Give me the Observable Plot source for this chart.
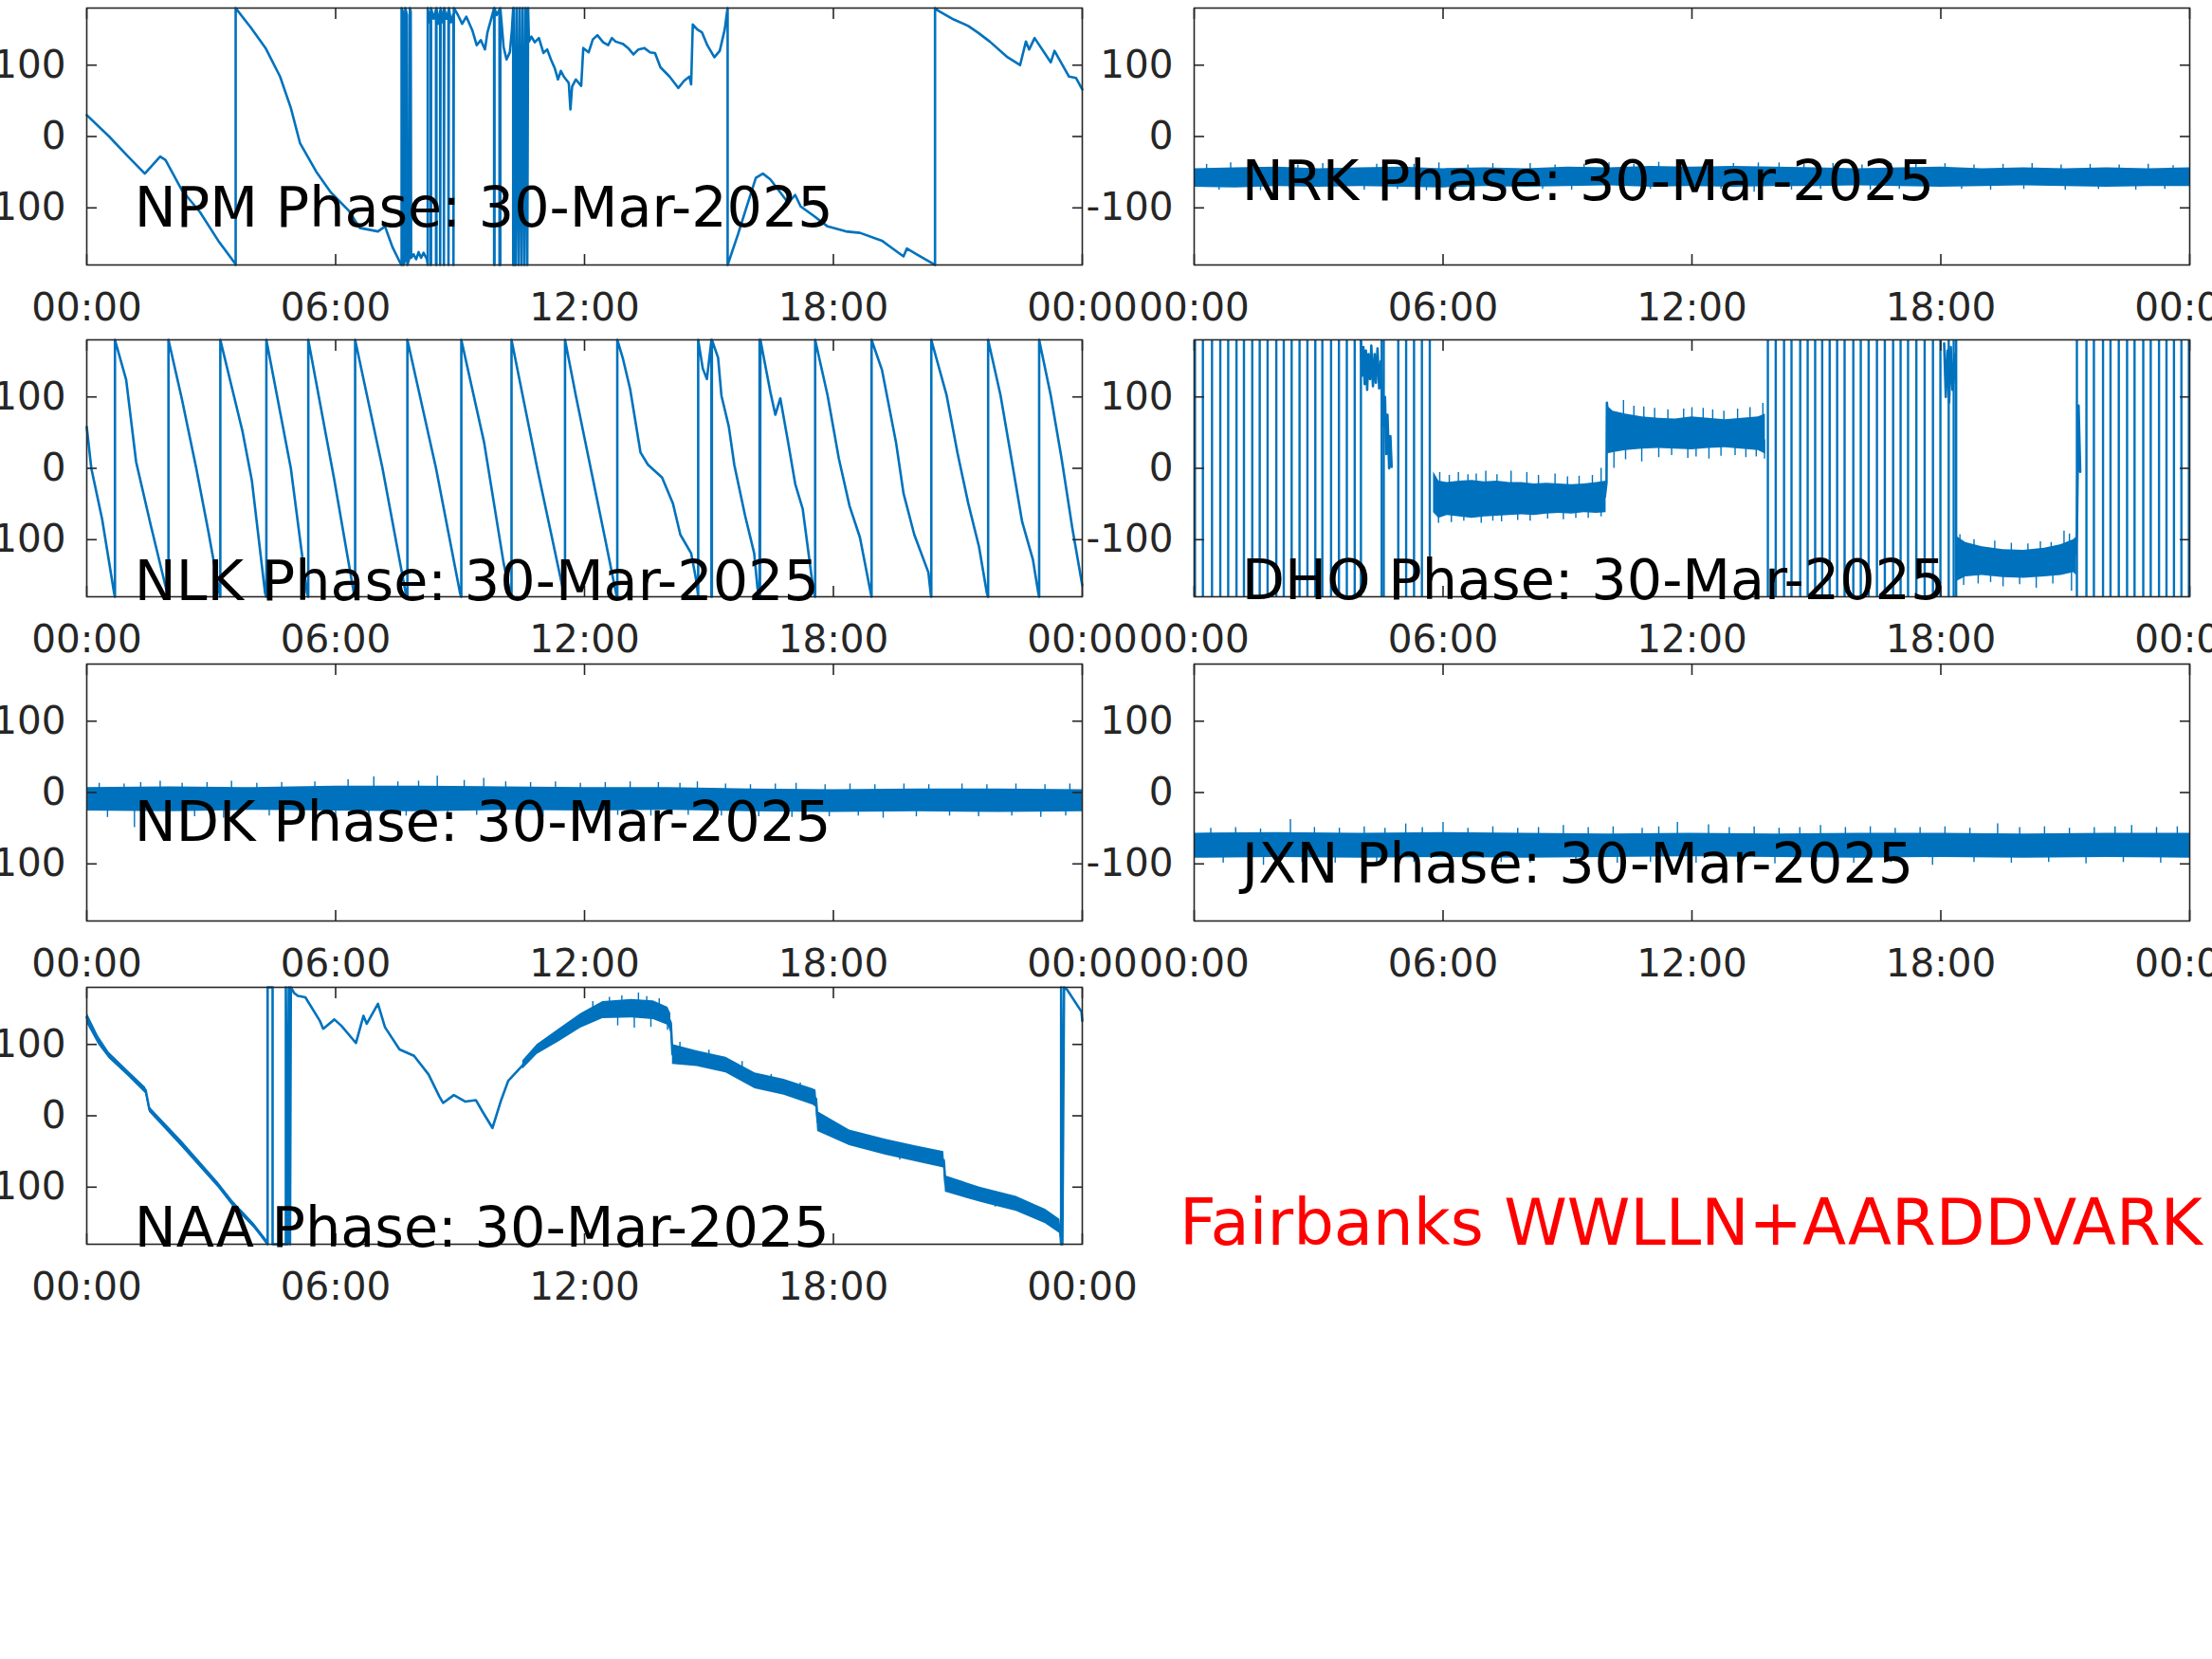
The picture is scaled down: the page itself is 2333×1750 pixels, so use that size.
<!DOCTYPE html>
<html>
<head>
<meta charset="utf-8">
<title>VLF phase, Fairbanks, 30-Mar-2025</title>
<script src="https://cdn.jsdelivr.net/npm/d3@7"></script>
<script src="https://cdn.jsdelivr.net/npm/@observablehq/plot@0.6"></script>
<style>
  html, body { margin: 0; padding: 0; background: #fff; overflow: hidden; width: 2333px; height: 1750px; }
  #page { position: relative; width: 2333px; height: 1750px; overflow: hidden; }
  .panel { position: absolute; }
  .panel svg { overflow: visible; max-width: none; }
  #caption { position: absolute; overflow: visible; }
</style>
</head>
<body>
<div id="page"></div>
<script>
// ---- Phase traces (hour of day, degrees). Wraps appear as consecutive ±180 points. ----
const DATE = "30-Mar-2025";
const hourTicks = [0, 6, 12, 18, 24];
const phaseTicks = [-100, 0, 100];

const npmTrace = [
  [0, 30], [0.54, 0], [0.98, -27], [1.4, -52], [1.77, -28], [1.9, -33], [2.29, -75], [2.73, -106], [3.17, -146], [3.59, -179],
  [3.59, -180], [3.59, 180], [3.95, 153], [4.31, 124], [4.66, 84], [4.92, 40], [5.14, -9], [5.53, -49], [5.88, -78],
  [6.32, -104], [6.58, -128], [7.02, -133], [7.19, -126], [7.37, -155], [7.54, -175],
  [7.59, -180], [7.59, 180], [7.62, 175], [7.63, -180], [7.67, -175], [7.68, 180], [7.72, 170], [7.73, -180],
  [7.78, -170], [7.79, 180], [7.81, 175], [7.82, -170],
  [7.88, -165], [7.94, -172], [8.0, -162], [8.06, -170], [8.12, -163], [8.2, -172],
  [8.22, -180], [8.22, 180], [8.26, 160], [8.29, 175], [8.29, -180], [8.3, -180], [8.3, 180], [8.36, 165],
  [8.42, 178], [8.42, -180], [8.43, -180], [8.43, 180], [8.48, 158], [8.52, 176], [8.52, -180], [8.53, 180],
  [8.57, 160], [8.61, 178], [8.61, -180], [8.62, 180], [8.67, 165], [8.72, 176], [8.72, -180], [8.73, 180],
  [8.78, 160], [8.84, 172], [8.84, -180], [8.85, 180], [8.95, 170], [9.05, 158], [9.15, 168], [9.3, 148],
  [9.4, 128], [9.5, 135], [9.6, 122], [9.66, 146], [9.75, 165], [9.82, 180], [9.82, -180], [9.83, -180], [9.83, 180],
  [9.88, 170], [9.95, 178], [9.95, -180], [9.97, -180], [9.97, 180], [10.05, 125], [10.12, 108], [10.2, 118], [10.25, 150],
  [10.28, 180], [10.28, -180], [10.3, -180], [10.3, 180], [10.34, -180], [10.37, 180], [10.41, -180], [10.44, 180],
  [10.48, -180], [10.51, 180], [10.55, -180], [10.58, 180], [10.62, -180], [10.64, 180],
  [10.66, 133], [10.72, 140], [10.8, 132], [10.9, 138], [11.01, 117], [11.1, 122], [11.19, 108], [11.28, 96], [11.36, 80],
  [11.43, 92], [11.5, 84], [11.62, 75], [11.66, 38], [11.7, 70], [11.79, 80], [11.92, 71], [11.97, 124], [12.1, 118],
  [12.2, 136], [12.31, 142], [12.45, 132], [12.57, 128], [12.66, 138], [12.75, 133], [12.92, 130], [13.05, 124],
  [13.18, 115], [13.3, 122], [13.44, 124], [13.58, 118], [13.7, 117], [13.83, 97], [14.05, 84], [14.26, 68], [14.4, 78],
  [14.53, 84], [14.57, 73], [14.61, 157], [14.72, 150], [14.83, 146], [14.96, 128], [15.13, 111], [15.26, 120],
  [15.38, 150], [15.43, 172],
  [15.45, 180], [15.45, -180], [15.7, -137], [15.91, -98], [16.13, -58], [16.3, -52], [16.48, -60], [16.65, -73],
  [16.91, -93], [17.08, -82], [17.21, -98], [17.52, -111], [17.86, -126], [18.3, -133], [18.64, -135], [19.17, -146],
  [19.43, -157], [19.69, -168], [19.77, -157], [20.03, -166], [20.42, -179],
  [20.45, -180], [20.45, 180], [20.51, 177], [20.9, 164], [21.25, 155], [21.5, 145], [21.77, 133], [22.2, 111],
  [22.5, 100], [22.64, 133], [22.72, 122], [22.85, 138], [23.24, 104], [23.33, 120], [23.68, 84], [23.85, 82], [24, 66]
];

const nrkBand = [
  [0, -71, -45], [1, -72, -44], [2, -70, -43], [3, -71, -45], [4, -70, -44], [5, -71, -43], [6, -72, -45],
  [7, -70, -44], [8, -71, -45], [9, -70, -43], [10, -69, -44], [11, -71, -42], [12, -70, -43], [13, -71, -42],
  [14, -70, -43], [15, -70, -44], [16, -69, -45], [17, -70, -44], [18, -71, -43], [19, -70, -45], [20, -69, -44],
  [21, -70, -45], [22, -71, -44], [23, -70, -45], [24, -70, -44]
];
const nrkSpikes = [
  [0.3, -50, -39], [0.88, -50, -37], [1.4, -50, -40], [2.0, -50, -39], [2.5, -50, -40], [3.1, -50, -38], [3.7, -50, -40],
  [4.4, -50, -39], [5.3, -50, -39], [5.9, -50, -37], [6.6, -50, -40], [7.2, -50, -38], [8.1, -50, -38], [8.7, -50, -40],
  [9.4, -50, -39], [10.0, -50, -37], [10.6, -50, -39], [11.2, -50, -36], [11.8, -50, -38], [12.4, -50, -35], [13.0, -50, -38],
  [13.6, -50, -37], [14.1, -50, -37], [14.7, -50, -39], [15.4, -50, -38], [16.1, -50, -40], [16.8, -50, -38], [17.4, -50, -39],
  [18.1, -50, -38], [18.8, -50, -40], [19.5, -50, -39], [20.2, -50, -38], [20.9, -50, -40], [21.6, -50, -39], [22.3, -50, -40],
  [23.0, -50, -39], [23.6, -50, -41],
  [0.6, -75, -62], [1.6, -76, -62], [2.3, -74, -62], [3.3, -77, -62], [4.1, -75, -62], [4.9, -74, -62], [5.6, -76, -62],
  [6.3, -75, -62], [7.5, -77, -62], [8.4, -74, -62], [9.1, -75, -62], [10.3, -76, -62], [11.0, -74, -62], [11.7, -75, -62],
  [12.7, -74, -62], [13.5, -78, -62], [14.4, -75, -62], [15.1, -74, -62], [16.3, -75, -62], [17.0, -74, -62], [17.7, -76, -62],
  [18.5, -74, -62], [19.2, -75, -62], [20.0, -74, -62], [21.0, -75, -62], [21.8, -74, -62], [22.7, -75, -62], [23.4, -74, -62]
];

const nlkTrace = [
  [0, 58], [0.11, 0], [0.37, -71], [0.66, -175], [0.68, -180], [0.68, 180],
  [0.95, 124], [1.19, 9], [1.54, -79], [1.94, -175], [1.97, -180], [1.97, 180],
  [2.29, 98], [2.64, 0], [2.93, -88], [3.2, -175], [3.22, -180], [3.22, 180],
  [3.75, 53], [3.98, -17], [4.3, -175], [4.33, -180], [4.33, 180],
  [4.92, 0], [5.31, -175], [5.34, -180], [5.34, 180],
  [5.97, -17], [6.44, -175], [6.47, -180], [6.47, 180],
  [7.13, 0], [7.69, -175], [7.73, -180], [7.73, 180],
  [8.42, 0], [9.0, -175], [9.03, -180], [9.03, 180],
  [9.58, 36], [10.05, -133], [10.21, -175], [10.24, -180], [10.24, 180],
  [10.86, 0], [11.5, -175], [11.53, -180], [11.53, 180],
  [11.79, 102], [12.1, 14], [12.49, -97], [12.77, -178], [12.79, -180], [12.79, 180],
  [12.92, 155], [13.1, 111], [13.35, 22], [13.53, 5], [13.87, -13], [14.13, -49], [14.31, -93], [14.57, -119],
  [14.7, -159], [14.74, -180], [14.74, 180],
  [14.85, 140], [14.95, 125], [15.02, 160], [15.06, 180], [15.06, -180], [15.07, -180], [15.07, 180],
  [15.22, 155], [15.3, 102], [15.48, 58], [15.61, 5], [15.87, -66], [16.09, -119], [16.17, -168],
  [16.22, -180], [16.22, 180], [16.23, -180], [16.24, 180],
  [16.48, 107], [16.6, 75], [16.72, 98], [16.91, 36], [17.08, -22], [17.26, -57], [17.52, -172], [17.56, -180], [17.56, 180],
  [17.86, 102], [18.13, 14], [18.39, -53], [18.64, -97], [18.9, -175], [18.92, -180], [18.92, 180],
  [19.17, 138], [19.51, 36], [19.69, -35], [19.95, -93], [20.29, -146], [20.35, -178], [20.36, -180], [20.36, 180],
  [20.73, 102], [20.99, 22], [21.25, -49], [21.51, -110], [21.7, -175], [21.73, -180], [21.73, 180],
  [22.03, 102], [22.29, 14], [22.55, -75], [22.81, -128], [22.94, -175], [22.96, -180], [22.96, 180],
  [23.24, 102], [23.5, 14], [23.76, -84], [24, -164]
];

// DHO: hours at which the fast-rotating phase sweeps the full ±180 range
const dhoWraps = [
  0.02, 0.21, 0.43, 0.63, 0.82, 1.02, 1.2, 1.4, 1.58, 1.77, 1.98, 2.16, 2.35, 2.54, 2.73, 2.92, 3.09, 3.3, 3.49,
  3.68, 3.87, 4.02, 4.52, 4.57, 4.92, 5.11, 5.3, 5.49, 5.68,
  13.83, 14.02, 14.22, 14.4, 14.61, 14.79, 14.97, 15.14, 15.32, 15.5, 15.68, 15.89, 16.07, 16.26, 16.46, 16.65,
  16.85, 17.03, 17.21, 17.41, 17.61, 17.81, 17.99, 18.19, 18.31, 18.37,
  21.28, 21.51, 21.69, 21.91, 22.09, 22.29, 22.49, 22.67, 22.88, 23.06, 23.26, 23.44, 23.62, 23.8, 23.98
];
const dhoNoiseEarly = [
  [4.02, 178], [4.05, 130], [4.08, 170], [4.11, 118], [4.14, 165], [4.17, 110], [4.2, 160], [4.24, 125], [4.27, 172],
  [4.31, 115], [4.35, 160], [4.38, 120], [4.42, 168], [4.46, 112], [4.5, 150], [4.53, 100], [4.56, 60], [4.6, 100],
  [4.63, 20], [4.66, 75], [4.7, 0], [4.73, 45], [4.76, 2]
];
const dhoNoiseLate = [[18.08, 175], [18.12, 100], [18.16, 165], [18.2, 92], [18.24, 170], [18.28, 110], [18.33, 160], [18.36, 120]];
const dhoStepUp = [[9.9, -40], [9.94, -20], [9.95, 92], [10.0, 55]];
const dhoStepLate = [[21.25, -120], [21.28, -90], [21.32, 88], [21.36, -5]];
const dhoBandA = [
  [5.77, -62, -5], [5.9, -70, -18], [6.1, -66, -20], [6.4, -68, -18], [6.7, -70, -17], [7.0, -68, -19], [7.3, -67, -18],
  [7.6, -66, -20], [7.9, -65, -20], [8.2, -66, -22], [8.5, -64, -21], [8.8, -63, -22], [9.1, -64, -23], [9.4, -62, -22],
  [9.7, -63, -20], [9.93, -62, -18]
];
const dhoBandB = [
  [9.95, 20, 88], [10.1, 22, 80], [10.4, 25, 76], [10.8, 27, 72], [11.2, 28, 70], [11.6, 27, 69], [12.0, 26, 72],
  [12.4, 28, 70], [12.8, 29, 68], [13.2, 27, 70], [13.6, 25, 72], [13.77, 20, 76]
];
const dhoBandC = [
  [18.4, -158, -96], [18.6, -152, -104], [19.0, -150, -110], [19.5, -153, -114], [20.0, -154, -115], [20.5, -152, -112],
  [20.9, -150, -107], [21.2, -146, -100], [21.27, -150, -96]
];
const dhoSpikes = [
  [5.92, -30, -6], [6.15, -30, -10], [6.37, -30, -6], [6.6, -30, -9], [6.8, -30, -8], [7.03, -30, -4], [7.3, -30, -9],
  [7.64, -30, -4], [8.02, -30, -6], [8.3, -30, -10], [8.7, -30, -8], [9.0, -30, -12], [9.28, -30, -11], [9.6, -30, -10], [9.81, -30, 0],
  [5.89, -77, -50], [6.2, -76, -50], [6.5, -74, -50], [6.92, -77, -50], [7.2, -74, -50], [7.41, -75, -50], [7.8, -73, -50],
  [8.1, -74, -50], [8.52, -71, -50], [8.9, -72, -50], [9.2, -70, -50], [9.5, -70, -50], [9.81, -68, -50],
  [10.35, 50, 95], [10.6, 50, 87], [10.84, 50, 86], [11.1, 50, 84], [11.42, 50, 82], [11.8, 50, 83], [12.0, 50, 85],
  [12.27, 50, 84], [12.5, 50, 82], [12.77, 50, 80], [13.1, 50, 83], [13.4, 50, 85], [13.71, 50, 91],
  [10.12, 0, 40], [10.4, 12, 40], [10.79, 9, 40], [11.2, 15, 40], [11.51, 18, 40], [11.9, 14, 40], [12.1, 16, 40],
  [12.41, 13, 40], [12.7, 17, 40], [13.04, 18, 40], [13.3, 15, 40], [13.55, 16, 40], [13.75, 13, 40],
  [18.46, -130, -93], [18.8, -130, -100], [19.3, -130, -102], [19.7, -130, -105], [20.1, -130, -106], [20.4, -130, -103],
  [20.66, -130, -104], [20.97, -130, -88], [21.1, -130, -92],
  [18.55, -164, -130], [18.9, -162, -130], [19.2, -160, -130], [19.5, -166, -130], [19.9, -163, -130], [20.3, -168, -130],
  [20.7, -162, -130], [21.15, -172, -130]
];

const ndkBand = [
  [0, -26, 7], [2, -27, 8], [4, -25, 7], [6, -26, 9], [8, -27, 9], [10, -25, 8], [12, -26, 7], [14, -25, 7],
  [16, -27, 5], [18, -28, 4], [20, -27, 5], [22, -28, 5], [24, -27, 4]
];
const ndkSpikes = [
  [0.3, 0, 13], [0.9, 0, 12], [1.3, 0, 14], [1.77, 0, 16], [2.3, 0, 13], [2.9, 0, 14], [3.49, 0, 16], [4.1, 0, 13],
  [4.7, 0, 14], [5.5, 0, 15], [6.3, 0, 18], [6.92, 0, 22], [7.5, 0, 15], [8.0, 0, 16], [8.45, 0, 23], [9.1, 0, 17],
  [9.57, 0, 20], [10.1, 0, 15], [10.7, 0, 14], [11.3, 0, 15], [11.9, 0, 13], [12.5, 0, 14], [13.1, 0, 15], [13.78, 0, 14],
  [14.3, 0, 13], [14.72, 0, 15], [15.4, 0, 12], [16.0, 0, 11], [16.6, 0, 12], [17.1, 0, 13], [17.8, 0, 11], [18.4, 0, 12],
  [19.0, 0, 11], [19.7, 0, 12], [20.3, 0, 11], [21.1, 0, 12], [21.7, 0, 11], [22.4, 0, 12], [23.1, 0, 11], [23.7, 0, 12],
  [0.5, -35, -15], [1.15, -49, -15], [2.0, -33, -15], [2.6, -34, -15], [3.3, -36, -15], [4.4, -33, -15], [5.2, -34, -15],
  [6.0, -33, -15], [6.8, -34, -15], [7.7, -33, -15], [8.7, -34, -15], [9.4, -32, -15], [10.4, -33, -15], [11.0, -35, -15],
  [11.8, -33, -15], [12.8, -32, -15], [13.6, -33, -15], [14.5, -32, -15], [15.3, -33, -15], [16.2, -34, -15], [17.0, -35, -15],
  [17.9, -34, -15], [18.6, -33, -15], [19.2, -36, -15], [20.0, -34, -15], [20.8, -33, -15], [21.5, -34, -15], [22.3, -33, -15],
  [23.0, -35, -15], [23.6, -33, -15]
];

const jxnBand = [
  [0, -92, -57], [2, -91, -56], [4, -92, -57], [6, -91, -56], [8, -92, -57], [10, -91, -58], [12, -90, -57],
  [14, -91, -58], [16, -92, -57], [18, -91, -57], [20, -92, -58], [22, -91, -57], [24, -92, -57]
];
const jxnSpikes = [
  [0.4, -70, -50], [1.0, -70, -49], [1.6, -70, -51], [2.32, -70, -38], [2.9, -70, -49], [3.5, -70, -50], [4.1, -70, -48],
  [4.6, -70, -50], [5.1, -70, -44], [5.5, -70, -49], [6.0, -70, -42], [6.6, -70, -50], [7.2, -70, -48], [7.8, -70, -50],
  [8.3, -70, -49], [8.9, -70, -46], [9.5, -70, -49], [10.1, -70, -48], [10.8, -70, -50], [11.2, -70, -48], [11.65, -70, -42],
  [12.4, -70, -45], [12.9, -70, -49], [13.5, -70, -48], [14.1, -70, -50], [14.6, -70, -49], [15.1, -70, -46], [15.7, -70, -49],
  [16.3, -70, -48], [16.9, -70, -50], [17.5, -70, -49], [18.1, -70, -48], [18.7, -70, -50], [19.37, -70, -44], [19.9, -70, -49],
  [20.5, -70, -48], [21.1, -70, -50], [21.7, -70, -49], [22.2, -70, -48], [22.6, -70, -46], [23.2, -70, -49], [23.7, -70, -48],
  [0.7, -99, -80], [1.67, -102, -80], [2.6, -98, -80], [3.4, -99, -80], [4.4, -100, -80], [5.3, -98, -80], [6.5, -101, -80],
  [7.4, -98, -80], [8.1, -99, -80], [9.2, -98, -80], [10.2, -99, -80], [11.0, -98, -80], [12.1, -99, -80], [13.1, -98, -80],
  [14.0, -100, -80], [15.0, -98, -80], [15.9, -99, -80], [16.8, -98, -80], [17.8, -102, -80], [18.8, -98, -80],
  [19.7, -99, -80], [20.6, -98, -80], [21.5, -100, -80], [22.4, -98, -80], [23.3, -99, -80]
];

const naaTrace = [
  [0, 138], [0.28, 106], [0.54, 84], [1.42, 36], [1.51, 9], [2.29, -40], [3.17, -97], [3.52, -124], [4.04, -155],
  [4.36, -180], [4.36, 180], [4.48, 180], [4.48, -180], [4.8, -180], [4.8, 180], [4.84, -180], [4.87, 180],
  [4.9, -180], [4.92, 180], [5.0, 172], [5.09, 168], [5.27, 166], [5.62, 133], [5.7, 122], [5.97, 135], [6.14, 126],
  [6.49, 102], [6.67, 140], [6.75, 129], [7.02, 157], [7.19, 124], [7.54, 93], [7.89, 84], [8.24, 58], [8.5, 27],
  [8.59, 18], [8.85, 29], [9.12, 20], [9.38, 22], [9.55, 5], [9.78, -17], [9.99, 22], [10.16, 49], [10.51, 71],
  [10.86, 93], [11.39, 113], [11.91, 133], [12.44, 148], [13.14, 150], [13.66, 148], [14.01, 140], [14.08, 130],
  [14.12, 86], [14.71, 80], [15.41, 71], [16.11, 49], [16.81, 40], [17.51, 27], [17.58, 24], [17.62, -8],
  [18.39, -31], [19.26, -44], [19.96, -53], [20.66, -62], [20.7, -95], [21.53, -110], [22.41, -124], [23.11, -141],
  [23.46, -155], [23.49, -180], [23.49, 180], [23.52, -180], [23.56, 180], [23.63, 177], [23.98, 146], [24, 133]
];
const naaBandDawn = [
  [0, 130, 145], [0.28, 100, 112], [0.54, 80, 89], [1.0, 55, 63], [1.42, 31, 40], [1.51, 5, 13], [2.29, -44, -35],
  [3.17, -101, -93], [3.52, -127, -119], [4.04, -158, -151], [4.36, -180, -175]
];
const naaBandNoon = [
  [10.51, 65, 77], [10.86, 86, 100], [11.39, 104, 122], [11.91, 123, 143], [12.44, 136, 160], [13.14, 137, 163],
  [13.66, 135, 161], [14.01, 127, 152], [14.08, 117, 143]
];
const naaBandDusk = [
  [14.12, 72, 100], [14.71, 69, 91], [15.41, 60, 82], [16.11, 38, 60], [16.81, 29, 51], [17.51, 15, 38], [17.58, 12, 36],
  [17.62, -22, 6], [18.39, -42, -20], [19.26, -55, -33], [19.96, -64, -42], [20.66, -73, -50], [20.7, -107, -84],
  [21.53, -121, -100], [22.41, -134, -113], [23.11, -151, -131], [23.46, -165, -145], [23.49, -180, -163]
];
const naaSpikes = [
  [12.2, 140, 160], [12.6, 150, 166], [12.9, 150, 168], [13.3, 150, 172], [13.5, 150, 167], [13.8, 145, 164],
  [12.8, 126, 145], [13.2, 123, 145], [13.6, 124, 145], [14.0, 120, 140],
  [14.3, 85, 103], [15.0, 70, 92], [15.8, 55, 76], [16.5, 36, 58], [17.2, 24, 46], [19.6, -62, -38], [21.9, -128, -106]
];

// ---- Layout and styling ----
const BLUE = "#0072BD";
const AXIS = "#262626";
const FONT = "'DejaVu Sans', 'Liberation Sans', sans-serif";
const PW = 1050, PH = 271;                  // plot area of each panel
const ML = 130, MR = 70, MT = 20, MB = 80;  // room for tick labels
const colLeft = [91, 1259];
const rowTop = [8, 358, 700, 1041];

const panels = [
  {station: "NPM", col: 0, row: 0, traces: [npmTrace], labelY: -126},
  {station: "NRK", col: 1, row: 0, bands: [nrkBand], spikes: nrkSpikes, labelY: -88.6},
  {station: "NLK", col: 0, row: 1, traces: [nlkTrace], labelY: -184.5},
  {station: "DHO", col: 1, row: 1, wraps: dhoWraps, bands: [dhoBandA, dhoBandB, dhoBandC], spikes: dhoSpikes,
   traces: [dhoNoiseEarly, dhoNoiseLate, dhoStepUp, dhoStepLate], labelY: -183.5},
  {station: "NDK", col: 0, row: 2, bands: [ndkBand], spikes: ndkSpikes, labelY: -67.6},
  {station: "JXN", col: 1, row: 2, bands: [jxnBand], spikes: jxnSpikes, labelY: -126.5},
  {station: "NAA", col: 0, row: 3, traces: [naaTrace], bands: [naaBandDawn, naaBandNoon, naaBandDusk], spikes: naaSpikes, labelY: -183.4}
];

const hhmm = (h) => `${String(h % 24).padStart(2, "0")}:00`;
const page = document.getElementById("page");

for (const p of panels) {
  const marks = [];
  for (const b of p.bands ?? []) {
    marks.push(Plot.areaY(b, {x: (d) => d[0], y1: (d) => d[1], y2: (d) => d[2], fill: BLUE}));
  }
  if (p.spikes) {
    marks.push(Plot.ruleX(p.spikes, {x: (d) => d[0], y1: (d) => d[1], y2: (d) => d[2], stroke: BLUE, strokeWidth: 1.4}));
  }
  if (p.wraps) {
    marks.push(Plot.ruleX(p.wraps, {x: (d) => d, y1: -180, y2: 180, stroke: BLUE, strokeWidth: 2.4}));
  }
  for (const t of p.traces ?? []) {
    marks.push(Plot.line(t, {x: (d) => d[0], y: (d) => d[1], stroke: BLUE, strokeWidth: 2.6, strokeLinejoin: "round"}));
  }
  marks.push(
    Plot.frame({stroke: AXIS, strokeWidth: 1.6}),
    Plot.axisY({anchor: "left", ticks: phaseTicks, tickFormat: (d) => String(d), tickSize: -11, tickPadding: 33,
                fontSize: 40.5, stroke: AXIS, fill: AXIS, strokeWidth: 1.6, label: null}),
    Plot.axisY({anchor: "right", ticks: phaseTicks, tickSize: -11, stroke: AXIS, fill: "none", strokeWidth: 1.6, label: null}),
    Plot.axisX({anchor: "bottom", ticks: hourTicks, tickFormat: hhmm, tickSize: -11, tickPadding: 40.5, fontSize: 40.5,
                stroke: AXIS, fill: AXIS, strokeWidth: 1.6, label: null}),
    Plot.axisX({anchor: "top", ticks: hourTicks, tickSize: -11, stroke: AXIS, fill: "none", strokeWidth: 1.6, label: null}),
    Plot.text([`${p.station} Phase: ${DATE}`], {
      x: 1.15, y: p.labelY, text: (d) => d, textAnchor: "start", lineAnchor: "bottom",
      fontSize: 58.8, fill: "#000"
    })
  );

  const chart = Plot.plot({
    width: ML + PW + MR,
    height: MT + PH + MB,
    marginLeft: ML, marginRight: MR, marginTop: MT, marginBottom: MB,
    x: {domain: [0, 24]},
    y: {domain: [-180, 180]},
    style: {fontFamily: FONT, background: "transparent", overflow: "visible"},
    marks
  });

  const holder = document.createElement("div");
  holder.className = "panel";
  holder.style.left = `${colLeft[p.col] - ML}px`;
  holder.style.top = `${rowTop[p.row] - MT}px`;
  holder.style.width = `${ML + PW + MR}px`;
  holder.append(chart);
  page.append(holder);
}

// Station caption in the empty slot beside the last panel
const caption = d3.create("svg")
  .attr("id", "caption")
  .attr("width", 1100)
  .attr("height", 100)
  .style("left", "1244px")
  .style("top", "1233px");
caption.append("text")
  .attr("x", 0)
  .attr("y", 80)
  .attr("font-family", FONT)
  .attr("font-size", 67.3)
  .attr("fill", "#FF0000")
  .text("Fairbanks WWLLN+AARDDVARK");
page.append(caption.node());
</script>
</body>
</html>
